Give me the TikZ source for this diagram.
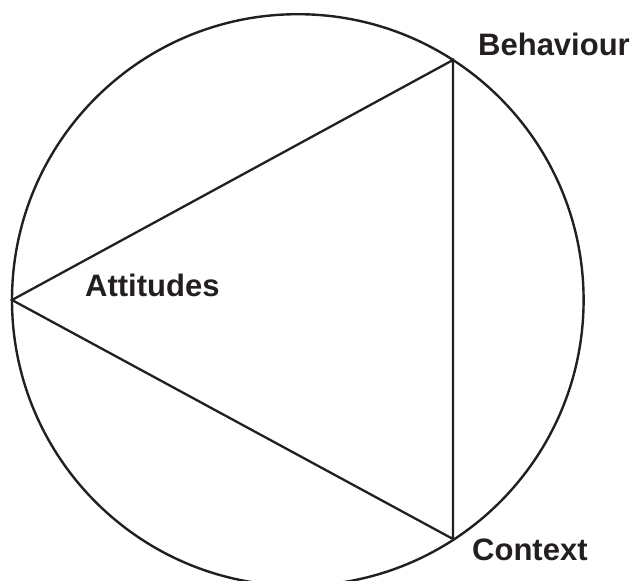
\documentclass[tikz,border=0pt]{standalone}
\usepackage{fontspec}
\setmainfont{Liberation Sans}
\definecolor{ink}{HTML}{231F20}
\begin{document}
\begin{tikzpicture}[x=1pt,y=-1pt,
  lbl/.style={font=\fontsize{31}{31}\selectfont\bfseries, text=ink, inner sep=0pt, anchor=base west},
  edge/.style={draw=ink, line width=2.3pt, line join=miter}]
\useasboundingbox (0,0) rectangle (635,581);
\begin{scope}
\clip (0,0) rectangle (635,581);
\node[draw=ink, line width=2.4pt, circle, minimum size=571.6pt, inner sep=0pt] (circ) at (297.8,300) {};
\end{scope}
\coordinate (A) at (12,300);
\coordinate (B) at (453,60);
\coordinate (C) at (453,539);
\draw[edge] (A) -- (B) -- (C) -- cycle;
\node[lbl] (att) at (85,296.7) {Attitudes};
\node[lbl] (beh) at (478,55) {Behaviour};
\node[lbl] (con) at (472,560) {Context};
\end{tikzpicture}
\end{document}
